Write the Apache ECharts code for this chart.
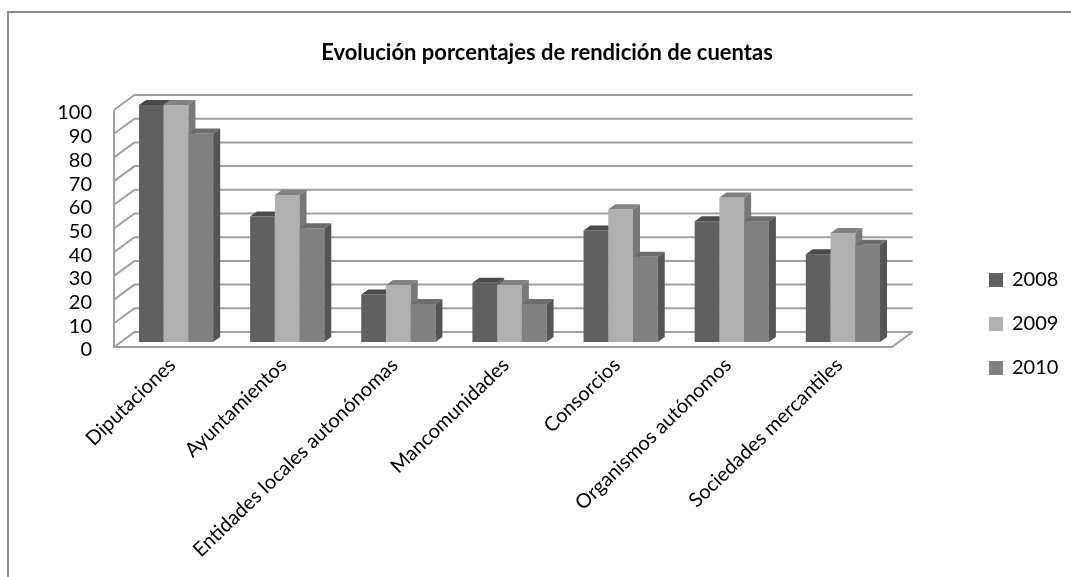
<!DOCTYPE html>
<html>
<head>
<meta charset="utf-8">
<style>html,body{margin:0;padding:0;background:#fff}#c{width:1071px;height:577px}</style>
<script src="https://cdn.jsdelivr.net/npm/echarts@6/dist/echarts.min.js"></script>
</head>
<body>
<div id="c"></div>
<script>
const categories = ['Diputaciones','Ayuntamientos','Entidades locales autonónomas','Mancomunidades','Consorcios','Organismos autónomos','Sociedades mercantiles'];
const years = ['2008','2009','2010'];
const v2008 = [100,53,20,25,47,51,37];
const v2009 = [100,62,24,24,56,61,46];
const v2010 = [88,48,16,16,36,51,41];
const yTicks = [0,10,20,30,40,50,60,70,80,90,100];
const fontName = 'Lato';

const frontColors = ['#606060','#b0b0b0','#808080'];
const sideColors = ['#505050','#787878','#555555'];
const topColors = ['#4a4a4a','#828282','#6c6c6c'];
const lineColor = '#a0a0a0';

const chart = echarts.init(document.getElementById('c'), null, {renderer:'canvas'});

function barSeries(name, values, s){
  return {
    name, type:'custom', coordinateSystem:'cartesian2d', clip:false, z:5+s,
    itemStyle:{color:frontColors[s]},
    encode:{x:0,y:1},
    data: values.map((v,i)=>[i,v]),
    renderItem(params, api){
      const c = api.coord([api.value(0), api.value(1)]);
      const base = api.coord([api.value(0), 0]);
      const band = api.size([1,0])[0];
      const w = band*0.2225, dx=7, dy=5, off=6.5, lift=5;
      const x0 = c[0]+off+(s-1)*w-w/2, x1 = x0+w;
      const yT = c[1]-lift, yB = base[1]-lift;
      return {type:'group', children:[
        {type:'rect', shape:{x:x0,y:yT,width:w,height:yB-yT}, style:{fill:frontColors[s]}},
        {type:'polygon', shape:{points:[[x1,yT],[x1+dx,yT-dy],[x1+dx,yB-dy],[x1,yB]]}, style:{fill:sideColors[s]}},
        {type:'polygon', shape:{points:[[x0,yT],[x0+dx,yT-dy],[x1+dx,yT-dy],[x1,yT]]}, style:{fill:topColors[s]}}
      ]};
    }
  };
}

const wallSeries = {
  name:'wall', type:'custom', coordinateSystem:'cartesian2d', clip:false, z:1, silent:true,
  encode:{x:0,y:1},
  data: yTicks.map(t=>[0,t]),
  renderItem(params, api){
    const c = api.coord([0, api.value(1)]);
    const band = api.size([1,0])[0];
    const xL = c[0]-band/2, xR = xL+band*categories.length, dx=20.5, dy=15;
    const y = c[1];
    const children = [];
    const ls = {stroke:lineColor, lineWidth:2, fill:null};
    if(api.value(1)===0){
      const yTop = api.coord([0,100])[1];
      children.push({type:'polyline', shape:{points:[[xL,yTop],[xL,y],[xR,y],[xR+dx,y-dy]]}, style:ls});
    }
    children.push({type:'polyline', shape:{points:[[xL,y],[xL+dx,y-dy],[xR+dx,y-dy]]}, style:ls});
    return {type:'group', children};
  }
};

const labelStyle = {fontFamily:fontName,fontSize:20,color:'#000',padding:[6,0,0,0]};

chart.setOption({
  animation:false,
  backgroundColor:'#fff',
  textStyle:{fontFamily:fontName},
  title:{text:'Evolución porcentajes de rendición de cuentas', left:542, top:37, textAlign:'center',
    textStyle:{fontFamily:fontName,fontWeight:'bold',fontSize:22,color:'#000'}},
  grid:{left:114,right:179,top:110,bottom:230,containLabel:false},
  legend:{orient:'vertical',left:984,top:265,data:years,icon:'rect',itemWidth:14,itemHeight:14,itemGap:24,
    textStyle:{fontFamily:fontName,fontSize:20,color:'#000',padding:[2,0,0,4]}},
  xAxis:{type:'category',data:categories,axisLine:{show:false},axisTick:{show:false},
    axisLabel:{rotate:44,interval:0,margin:12,formatter:'{a|{value}}',rich:{a:{...labelStyle,padding:[8,0,0,0]}}}},
  yAxis:{type:'value',min:0,max:100,interval:10,axisLine:{show:false},axisTick:{show:false},splitLine:{show:false},
    axisLabel:{margin:22,formatter:'{a|{value}}',rich:{a:labelStyle}}},
  graphic:[{type:'polyline',silent:true,shape:{points:[[8,577],[8,12],[1071,12]]},style:{stroke:'#8c8c8c',lineWidth:2,fill:null}}],
  series:[wallSeries, barSeries(years[0],v2008,0), barSeries(years[1],v2009,1), barSeries(years[2],v2010,2)]
});
</script>
</body>
</html>
